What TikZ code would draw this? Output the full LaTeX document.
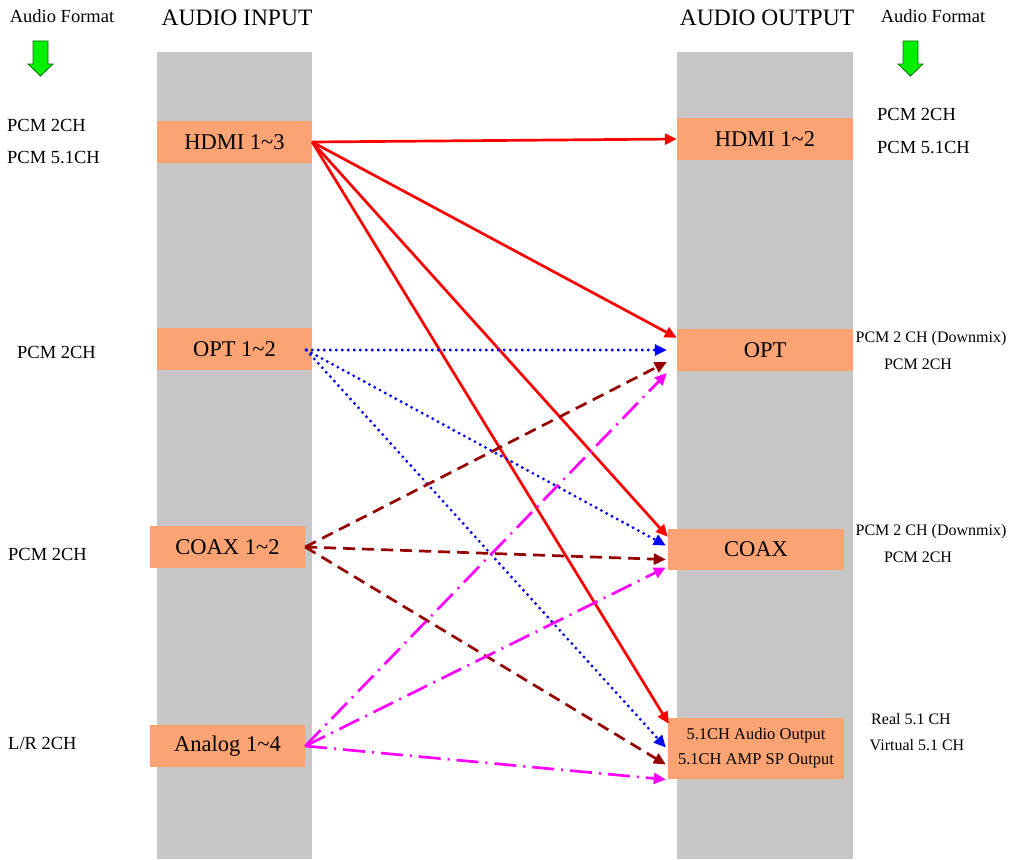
\documentclass[tikz,border=0pt]{standalone}
\usepackage{fontspec}
\setmainfont{Liberation Serif}
\usetikzlibrary{arrows.meta,calc}
\definecolor{colgray}{RGB}{198,198,198}
\definecolor{boxorange}{RGB}{252,163,115}
\definecolor{darkred}{RGB}{150,0,0}
\definecolor{puremag}{RGB}{255,0,255}
\definecolor{pureblue}{RGB}{0,0,255}
\definecolor{purered}{RGB}{255,0,0}
\definecolor{arrgreen}{RGB}{0,240,0}
\definecolor{arrgreenline}{RGB}{0,110,0}
\tikzset{
  column/.style={fill=colgray,draw=none},
  iobox/.style={fill=boxorange,draw=none,inner sep=0pt,font=\fontsize{22.5}{24}\selectfont},
  lbl/.style={inner sep=0pt,font=\fontsize{18.5}{20}\selectfont},
  slbl/.style={inner sep=0pt,font=\fontsize{16}{18}\selectfont},
  ttl/.style={inner sep=0pt,font=\fontsize{23.5}{25}\selectfont},
  tip/.style={-{Triangle[length=12pt,width=11pt]}},
  redline/.style={tip,draw=purered,fill=purered,line width=2.7pt},
  blueline/.style={tip,draw=pureblue,line width=3.2pt,line cap=round,dash pattern=on 0pt off 6pt},
  brownline/.style={tip,draw=darkred,line width=2.7pt,dash pattern=on 12pt off 7pt},
  magline/.style={tip,draw=puremag,line width=2.7pt,dash pattern=on 22pt off 7pt on 2pt off 7pt},
  greenarrow/.style={fill=arrgreen,draw=arrgreenline,line width=0.8pt}
}
\begin{document}
\begin{tikzpicture}[x=1pt,y=-1pt]
\useasboundingbox (0,0) rectangle (1019,859);
% columns
\fill[column] (157,52) rectangle (312,859);
\fill[column] (677,52) rectangle (853,859);
% titles
\node[ttl] (tin) at (237,18) {AUDIO INPUT};
\node[ttl] (tout) at (767,18) {AUDIO OUTPUT};
\node[lbl] (fmtL) at (62,16) {Audio Format};
\node[lbl] (fmtR) at (933,16) {Audio Format};
% green arrows
\draw[greenarrow] (33,41) -- (48,41) -- (48,64) -- (53,64) -- (40.5,76) -- (28,64) -- (33,64) -- cycle;
\draw[greenarrow] (903,41) -- (918,41) -- (918,64) -- (923,64) -- (910.5,76) -- (898,64) -- (903,64) -- cycle;
% input boxes
\node[iobox,minimum width=155pt,minimum height=42pt] (hdmiI) at (234.5,142) {HDMI 1\char`~3};
\node[iobox,minimum width=155pt,minimum height=42pt] (optI) at (234.5,349) {OPT 1\char`~2};
\node[iobox,minimum width=155pt,minimum height=42pt] (coaxI) at (227.5,547) {COAX 1\char`~2};
\node[iobox,minimum width=155pt,minimum height=42pt] (anaI) at (227.5,746) {Analog 1\char`~4};
% output boxes
\node[iobox,minimum width=176pt,minimum height=42pt] (hdmiO) at (765,139) {HDMI 1\char`~2};
\node[iobox,minimum width=176pt,minimum height=42pt] (optO) at (765,350) {OPT};
\node[iobox,minimum width=176pt,minimum height=41pt] (coaxO) at (756,549.5) {COAX};
\node[iobox,minimum width=176pt,minimum height=61pt,align=center,font=\fontsize{16.5}{25}\selectfont] (ch51) at (756,748.5) {5.1CH Audio Output\\5.1CH AMP SP Output};
% left labels
\node[lbl,anchor=west] (l1) at (7,125) {PCM 2CH};
\node[lbl,anchor=west] (l2) at (7,158) {PCM 5.1CH};
\node[lbl,anchor=west] (l3) at (17,352) {PCM 2CH};
\node[lbl,anchor=west] (l4) at (8,554) {PCM 2CH};
\node[lbl,anchor=west] (l5) at (8,743) {L/R 2CH};
% right labels
\node[lbl,anchor=west] (r1) at (877,114) {PCM 2CH};
\node[lbl,anchor=west] (r2) at (877,148) {PCM 5.1CH};
\node[slbl] (r3) at (931,339) {PCM 2 CH (Downmix)};
\node[slbl] (r4) at (918,364) {PCM 2CH};
\node[slbl] (r5) at (931,532) {PCM 2 CH (Downmix)};
\node[slbl] (r6) at (918,557) {PCM 2CH};
\node[slbl] (r7) at (911,719) {Real 5.1 CH};
\node[slbl] (r8) at (917,745) {Virtual 5.1 CH};
% red connectors (HDMI)
\draw[redline] (hdmiI.east) -- (hdmiO.west);
\draw[redline] (hdmiI.east) -- ($(optO.north west)+(0,9)$);
\draw[redline] (hdmiI.east) -- ($(coaxO.north west)+(0,8)$);
\draw[redline] (hdmiI.east) -- ($(ch51.north west)+(1,6)$);
% blue dotted (OPT)
\draw[blueline] ($(optI.east)+(-6,1)$) -- ($(optO.west)+(-10,0)$);
\draw[blueline] ($(optI.east)+(-6,1)$) -- ($(coaxO.west)+(-2,-4)$);
\draw[blueline] ($(optI.east)+(-6,1)$) -- ($(ch51.west)+(-2,-1)$);
% brown dashed (COAX)
\draw[brownline] (coaxI.east) -- ($(optO.west)+(-10,12)$);
\draw[brownline] (coaxI.east) -- ($(coaxO.west)+(-2,10)$);
\draw[brownline] (coaxI.east) -- ($(ch51.west)+(-2,16)$);
% magenta dash-dot (Analog)
\draw[magline] (anaI.east) -- ($(optO.west)+(-10,23)$);
\draw[magline] (anaI.east) -- ($(coaxO.west)+(-2,18)$);
\draw[magline] (anaI.east) -- ($(ch51.west)+(-2,31)$);
\end{tikzpicture}
\end{document}
